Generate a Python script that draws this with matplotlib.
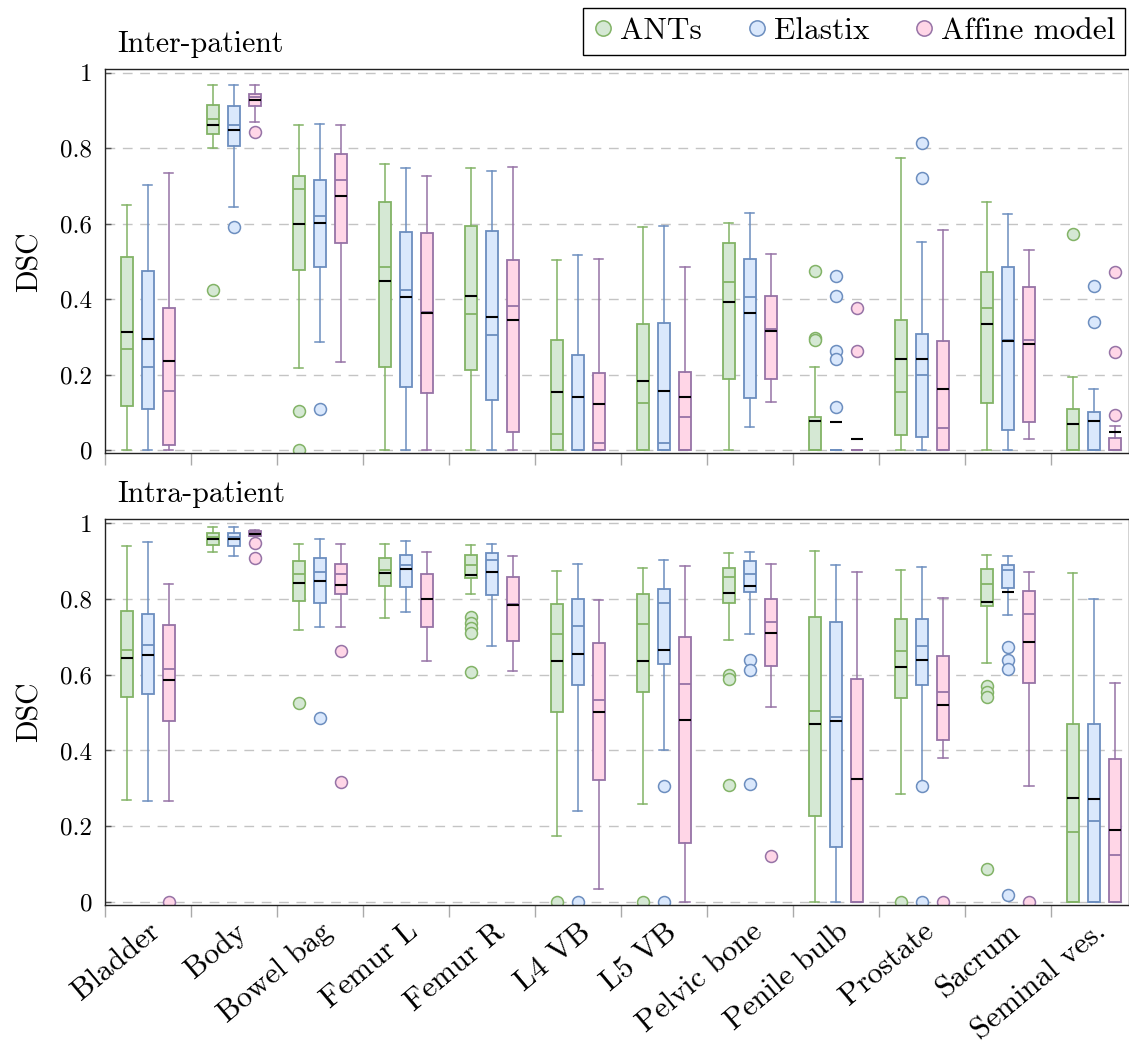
import matplotlib
matplotlib.use('Agg')
import matplotlib.pyplot as plt
from matplotlib.lines import Line2D

plt.rcParams['font.family'] = ['cmr10', 'DejaVu Serif']
plt.rcParams['mathtext.fontset'] = 'cm'
plt.rcParams['axes.formatter.use_mathtext'] = True

organs = ['Bladder', 'Body', 'Bowel bag', 'Femur L', 'Femur R', 'L4 VB', 'L5 VB',
          'Pelvic bone', 'Penile bulb', 'Prostate', 'Sacrum', 'Seminal ves.']
methods = ['ANTs', 'Elastix', 'Affine model']
fills = ['#d5e8d4', '#dae8fc', '#ffd6e7']
edges = ['#82b366', '#6c8ebf', '#9673a6']
y_ticks = [0, 0.2, 0.4, 0.6, 0.8, 1]
y_tick_labels = ['0', '0.2', '0.4', '0.6', '0.8', '1']

# ---- Inter-patient (rows: ANTs, Elastix, Affine model) ----
inter_whishi = [[0.651, 0.969, 0.861, 0.758, 0.748, 0.505, 0.593, 0.602, 0.222, 0.774, 0.658, 0.194],
                [0.702, 0.969, 0.865, 0.748, 0.741, 0.517, 0.595, 0.628, 0.0, 0.552, 0.626, 0.163],
                [0.734, 0.967, 0.863, 0.726, 0.750, 0.508, 0.486, 0.519, 0.0, 0.585, 0.532, 0.065]]
inter_q3 = [[0.512, 0.915, 0.726, 0.658, 0.595, 0.291, 0.335, 0.549, 0.089, 0.346, 0.472, 0.110],
            [0.476, 0.913, 0.717, 0.578, 0.581, 0.253, 0.338, 0.508, 0.0, 0.308, 0.485, 0.102],
            [0.377, 0.944, 0.786, 0.576, 0.504, 0.206, 0.208, 0.410, 0.0, 0.289, 0.433, 0.033]]
inter_med = [[0.268, 0.877, 0.692, 0.486, 0.361, 0.043, 0.126, 0.447, 0.0, 0.154, 0.378, 0.0],
             [0.220, 0.863, 0.622, 0.426, 0.306, 0.002, 0.019, 0.406, 0.0, 0.199, 0.291, 0.0],
             [0.157, 0.936, 0.717, 0.367, 0.383, 0.020, 0.088, 0.322, 0.0, 0.060, 0.291, 0.0]]
inter_mean = [[0.313, 0.863, 0.600, 0.449, 0.409, 0.154, 0.185, 0.392, 0.078, 0.242, 0.335, 0.071],
              [0.296, 0.848, 0.603, 0.407, 0.352, 0.141, 0.156, 0.365, 0.074, 0.242, 0.289, 0.077],
              [0.237, 0.927, 0.675, 0.365, 0.346, 0.124, 0.141, 0.316, 0.031, 0.163, 0.282, 0.049]]
inter_q1 = [[0.117, 0.838, 0.478, 0.222, 0.214, 0.0, 0.0, 0.190, 0.0, 0.041, 0.125, 0.0],
            [0.109, 0.805, 0.487, 0.169, 0.134, 0.0, 0.0, 0.139, 0.0, 0.035, 0.053, 0.0],
            [0.015, 0.911, 0.549, 0.153, 0.049, 0.0, 0.0, 0.188, 0.0, 0.0, 0.075, 0.0]]
inter_whislo = [[0.0, 0.802, 0.219, 0.0, 0.0, 0.0, 0.0, 0.0, 0.0, 0.0, 0.0, 0.0],
                [0.0, 0.644, 0.287, 0.0, 0.0, 0.0, 0.0, 0.061, 0.0, 0.0, 0.0, 0.0],
                [0.0, 0.869, 0.235, 0.0, 0.0, 0.0, 0.0, 0.129, 0.0, 0.0, 0.031, 0.0]]
inter_fliers = [[[], [0.426], [0.105, 0.0], [], [], [], [], [], [0.474, 0.298, 0.291], [], [], [0.573]],
                [[], [0.593], [0.109], [], [], [], [], [], [0.462, 0.410, 0.262, 0.243, 0.115],
                 [0.813, 0.721], [], [0.435, 0.340]],
                [[], [0.843], [], [], [], [], [], [], [0.377, 0.262], [], [], [0.473, 0.260, 0.094]]]

# ---- Intra-patient ----
intra_whishi = [[0.939, 0.989, 0.944, 0.944, 0.941, 0.873, 0.882, 0.922, 0.926, 0.877, 0.915, 0.868],
                [0.949, 0.989, 0.957, 0.952, 0.944, 0.892, 0.902, 0.925, 0.889, 0.884, 0.913, 0.800],
                [0.840, 0.983, 0.944, 0.923, 0.913, 0.798, 0.888, 0.892, 0.870, 0.802, 0.870, 0.577]]
intra_q3 = [[0.769, 0.974, 0.900, 0.907, 0.916, 0.786, 0.812, 0.882, 0.751, 0.747, 0.878, 0.469],
            [0.761, 0.973, 0.908, 0.915, 0.922, 0.800, 0.826, 0.900, 0.738, 0.746, 0.890, 0.471],
            [0.731, 0.979, 0.893, 0.866, 0.858, 0.683, 0.700, 0.800, 0.588, 0.649, 0.821, 0.377]]
intra_med = [[0.666, 0.964, 0.865, 0.876, 0.889, 0.706, 0.735, 0.857, 0.504, 0.662, 0.840, 0.184],
             [0.678, 0.962, 0.871, 0.889, 0.902, 0.728, 0.788, 0.866, 0.489, 0.675, 0.875, 0.213],
             [0.616, 0.974, 0.865, 0.800, 0.787, 0.534, 0.575, 0.739, 0.0, 0.554, 0.760, 0.123]]
intra_mean = [[0.643, 0.959, 0.843, 0.869, 0.862, 0.635, 0.635, 0.815, 0.471, 0.619, 0.792, 0.275],
              [0.651, 0.957, 0.846, 0.880, 0.872, 0.655, 0.664, 0.835, 0.479, 0.638, 0.818, 0.273],
              [0.586, 0.971, 0.837, 0.800, 0.784, 0.501, 0.481, 0.710, 0.325, 0.521, 0.686, 0.190]]
intra_q1 = [[0.542, 0.943, 0.795, 0.834, 0.854, 0.501, 0.555, 0.788, 0.228, 0.539, 0.780, 0.0],
            [0.548, 0.940, 0.789, 0.832, 0.810, 0.573, 0.627, 0.817, 0.144, 0.574, 0.829, 0.0],
            [0.478, 0.967, 0.813, 0.725, 0.688, 0.321, 0.157, 0.623, 0.0, 0.427, 0.577, 0.0]]
intra_whislo = [[0.270, 0.925, 0.718, 0.750, 0.814, 0.174, 0.258, 0.691, 0.0, 0.286, 0.631, 0.0],
                [0.267, 0.914, 0.725, 0.765, 0.675, 0.239, 0.401, 0.706, 0.0, 0.310, 0.757, 0.0],
                [0.266, 0.965, 0.725, 0.635, 0.610, 0.035, 0.0, 0.515, 0.0, 0.379, 0.306, 0.0]]
intra_fliers = [[[], [], [0.526], [], [0.753, 0.736, 0.723, 0.710, 0.607], [0.0], [0.0],
                 [0.598, 0.589, 0.308], [], [0.0], [0.569, 0.554, 0.540, 0.086], []],
                [[], [], [0.485], [], [], [0.0], [0.306, 0.0], [0.638, 0.612, 0.311], [],
                 [0.307, 0.0], [0.674, 0.640, 0.614, 0.018], []],
                [[0.0], [0.947, 0.907], [0.662, 0.316], [], [], [], [], [0.122], [], [0.0], [0.0], []]]


def draw_panel(ax, title, whishi, q3, med, mean, q1, whislo, fliers, show_labels):
    centers = list(range(1, len(organs) + 1))
    for m in range(len(methods)):
        stats = []
        for i in range(len(organs)):
            stats.append(dict(whishi=whishi[m][i], q3=q3[m][i], med=med[m][i], mean=mean[m][i],
                              q1=q1[m][i], whislo=whislo[m][i], fliers=fliers[m][i]))
        pos = [c + (m - 1) * 0.245 for c in centers]
        ax.bxp(stats, positions=pos, widths=0.14, capwidths=0.11, patch_artist=True,
               showmeans=True, meanline=True, manage_ticks=False,
               boxprops=dict(facecolor=fills[m], edgecolor=edges[m], linewidth=1.3),
               whiskerprops=dict(color=edges[m], linewidth=1.1),
               capprops=dict(color=edges[m], linewidth=1.1),
               medianprops=dict(color=edges[m], linewidth=1.3),
               meanprops=dict(color='black', linestyle='-', linewidth=1.5),
               flierprops=dict(marker='o', markersize=8.6, markerfacecolor=fills[m],
                               markeredgecolor=edges[m], markeredgewidth=1.1))

    ax.set_xlim(0.5, 12.41)
    ax.set_ylim(-0.008, 1.01)
    ax.set_axisbelow(True)
    ax.yaxis.grid(True, color='#c4c4c4', linestyle=(0, (7, 5.5)), linewidth=1.0)

    ax.set_yticks(y_ticks, y_tick_labels)
    ax.tick_params(axis='y', direction='in', length=4, width=1, color='#555555',
                   labelsize=18, pad=9)

    ax.set_xticks([c - 0.5 for c in centers])
    ax.set_xticklabels([])
    ax.tick_params(axis='x', which='major', direction='out', length=8.5, width=1, color='#aaaaaa')
    if show_labels:
        ax.set_xticks(centers, organs, minor=True, rotation=40, ha='right', va='top',
                      rotation_mode='anchor', fontsize=22)
    else:
        ax.set_xticks(centers, minor=True)
    ax.tick_params(axis='x', which='minor', length=0, pad=9)

    for s in ax.spines.values():
        s.set_color('#222222')
        s.set_linewidth(1.0)

    ax.set_ylabel('DSC', fontsize=21.5)
    ax.yaxis.set_label_coords(-0.06, 0.5)
    ax.annotate(title, xy=(0, 1), xycoords='axes fraction', xytext=(8.9, 12.2),
                textcoords='offset points', ha='left', va='baseline', fontsize=21.5)


fig = plt.figure(figsize=(11.29, 10.47), dpi=100)
ax1 = fig.add_axes([0.0927, 0.567, 0.9073, 0.367])
ax2 = fig.add_axes([0.0927, 0.1356, 0.9073, 0.3684])

draw_panel(ax1, 'Inter-patient', inter_whishi, inter_q3, inter_med, inter_mean,
           inter_q1, inter_whislo, inter_fliers, False)
draw_panel(ax2, 'Intra-patient', intra_whishi, intra_q3, intra_med, intra_mean,
           intra_q1, intra_whislo, intra_fliers, True)

handles = [Line2D([], [], linestyle='none', marker='o', markersize=11,
                  markerfacecolor=fills[m], markeredgecolor=edges[m], markeredgewidth=1.1)
           for m in range(len(methods))]
leg = fig.legend(handles, methods, loc='upper right', bbox_to_anchor=(1125 / 1129, 1 - 8 / 1047),
                 ncol=3, fontsize=22.5, frameon=True, fancybox=False, edgecolor='black',
                 framealpha=1, borderpad=0.3, handlelength=0.7, handletextpad=0.2,
                 columnspacing=1.4, borderaxespad=0)
leg.get_frame().set_linewidth(1.0)

fig.savefig('out.png', dpi=100)
